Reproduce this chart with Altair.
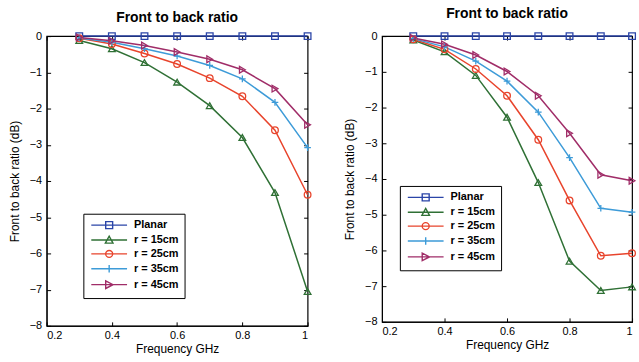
import altair as alt
import pandas as pd

freq = [0.3, 0.4, 0.5, 0.6, 0.7, 0.8, 0.9, 1.0]
series = ["Planar", "r = 15cm", "r = 25cm", "r = 35cm", "r = 45cm"]
colors = ["#2b45a8", "#2f7035", "#e8442c", "#3d9bd8", "#a02d68"]

left_planar = [0, 0, 0, 0, 0, 0, 0, 0]
left_r15 = [-0.12, -0.35, -0.73, -1.27, -1.92, -2.8, -4.32, -7.05]
left_r25 = [-0.06, -0.22, -0.48, -0.77, -1.16, -1.66, -2.6, -4.38]
left_r35 = [-0.05, -0.17, -0.35, -0.55, -0.81, -1.18, -1.83, -3.08]
left_r45 = [-0.04, -0.13, -0.26, -0.44, -0.64, -0.93, -1.45, -2.45]

right_planar = [0, 0, 0, 0, 0, 0, 0, 0]
right_r15 = [-0.11, -0.44, -1.1, -2.27, -4.1, -6.3, -7.12, -7.02]
right_r25 = [-0.09, -0.37, -0.92, -1.67, -2.9, -4.6, -6.15, -6.08]
right_r35 = [-0.07, -0.3, -0.7, -1.26, -2.13, -3.4, -4.82, -4.93]
right_r45 = [-0.05, -0.23, -0.53, -0.99, -1.67, -2.72, -3.88, -4.05]

x_ticks = [0.2, 0.4, 0.6, 0.8, 1.0]
y_ticks = [0, -1, -2, -3, -4, -5, -6, -7, -8]

marker_shapes = ["square", "triangle-up", "circle", "M-1,0H1M0,-1V1", "triangle-right"]
# legend glyphs: a line segment with the marker in its middle
legend_shapes = [
    "M-1,0H9.3M3.15,-1H5.15V1H3.15Z",
    "M-1,0H9.3M3.05,0.9L4.15,-1.1L5.25,0.9Z",
    "M-1,0H9.3M3.15,0A1,1 0 1,0 5.15,0A1,1 0 1,0 3.15,0",
    "M-1,0H9.3M4.15,-1.1V1.1",
    "M-1,0H9.3M3.15,-1.1L5.25,0L3.15,1.1Z",
]
FONT = "Liberation Sans"


def make_panel(values, width, height, lx, ly, title_offset):
    rows = []
    for name, vals in zip(series, values):
        for f, v in zip(freq, vals):
            rows.append({"freq": f, "ratio": v, "series": name})
    df = pd.DataFrame(rows)
    xs = alt.Scale(domain=[0.2, 1.0], nice=False)
    ys = alt.Scale(domain=[-8, 0], nice=False)
    color = alt.Color("series:N", scale=alt.Scale(domain=series, range=colors), legend=None)

    base_x_axis = alt.Axis(values=x_ticks, format="~g", ticks=False, grid=False,
                           title="Frequency GHz", labelPadding=4, titlePadding=3,
                           domainColor="black", labelColor="black", titleColor="black")
    base_y_axis = alt.Axis(values=y_ticks, format="d", ticks=False, grid=False,
                           title="Front to back ratio (dB)", labelPadding=5, titlePadding=8,
                           domainColor="black", labelColor="black", titleColor="black")

    lines = alt.Chart(df).mark_line(strokeWidth=1.5).encode(
        x=alt.X("freq:Q", scale=xs, axis=base_x_axis),
        y=alt.Y("ratio:Q", scale=ys, axis=base_y_axis),
        color=color,
        detail="series:N",
    )
    points = alt.Chart(df).mark_point(filled=False, size=45, strokeWidth=1.3, opacity=1).encode(
        x=alt.X("freq:Q", scale=xs, axis=alt.Axis(orient="top", offset=-height, values=x_ticks,
                                                   labels=False, domain=False, grid=False,
                                                   tickSize=4, tickColor="black", title=None)),
        y=alt.Y("ratio:Q", scale=ys, axis=alt.Axis(orient="right", offset=-width, values=y_ticks,
                                                    labels=False, domain=False, grid=False,
                                                    tickSize=4, tickColor="black", title=None)),
        color=color,
        shape=alt.Shape("series:N", scale=alt.Scale(domain=series, range=marker_shapes), legend=None),
    )
    leg = dict(title=None, orient="none", legendX=lx, legendY=ly)
    # invisible carrier of the legend: only the first frequency, tiny size, so it stays inside the plot
    legend_layer = alt.Chart(df[df["freq"] == freq[0]]).mark_point(
        filled=False, opacity=0, size=1, clip=True
    ).encode(
        x=alt.X("freq:Q", scale=xs, axis=alt.Axis(orient="bottom", offset=-height, values=x_ticks,
                                                   labels=False, domain=False, grid=False,
                                                   tickSize=4, tickColor="black", title=None)),
        y=alt.Y("ratio:Q", scale=ys, axis=alt.Axis(orient="left", offset=-width, values=y_ticks,
                                                    labels=False, domain=False, grid=False,
                                                    tickSize=4, tickColor="black", title=None)),
        stroke=alt.Stroke("series:N", scale=alt.Scale(domain=series, range=colors),
                          legend=alt.Legend(**leg)),
        shape=alt.Shape("series:N", scale=alt.Scale(domain=series, range=legend_shapes),
                        legend=alt.Legend(**leg)),
    )
    return (
        alt.layer(lines, points, legend_layer)
        .resolve_scale(shape="independent", stroke="independent")
        .resolve_axis(x="independent", y="independent")
        .properties(width=width, height=height,
                    title=alt.TitleParams("Front to back ratio", fontSize=14, font=FONT,
                                          fontWeight="bold", color="black", offset=title_offset))
    )


left = make_panel([left_planar, left_r15, left_r25, left_r35, left_r45], 263, 292, 37, 179, 5)
right = make_panel([right_planar, right_r15, right_r25, right_r35, right_r45], 252, 288, 18, 151, 9)

chart = (
    alt.hconcat(left, right, spacing=28)
    .resolve_scale(color="independent", shape="independent", stroke="independent", x="independent", y="independent")
    .resolve_legend(stroke="independent", shape="independent")
    .properties(padding={"left": 7, "top": 5, "right": 0, "bottom": 0}, background="white")
    .configure_view(stroke="black", strokeWidth=1.2)
    .configure_axis(labelFont=FONT, titleFont=FONT, labelFontSize=11, titleFontSize=12,
                    titleFontWeight="normal")
    .configure_legend(symbolSize=49, symbolStrokeWidth=1.4, symbolOpacity=1,
                      symbolFillColor="transparent", labelOffset=34, labelFontSize=11,
                      labelFont=FONT, labelColor="black", labelFontWeight="bold",
                      strokeColor="black", fillColor="white", padding=6, rowPadding=1,
                      offset=0)
)

chart.save("out.html", embed_options={"renderer": "svg", "actions": False})
